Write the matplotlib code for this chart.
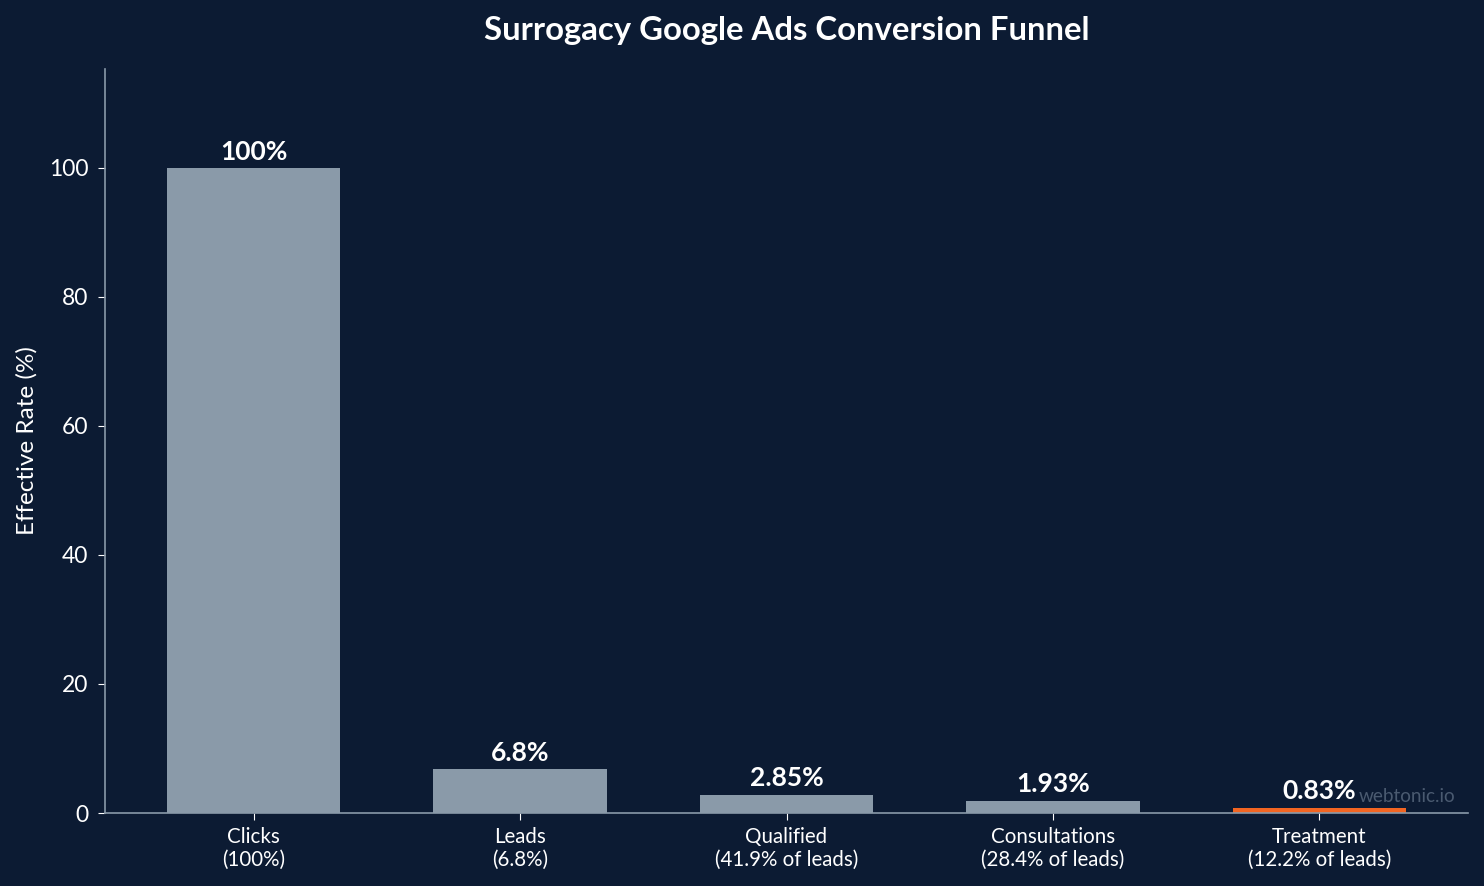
import matplotlib.pyplot as plt

stages = ["Clicks\n(100%)", "Leads\n(6.8%)", "Qualified\n(41.9% of leads)",
          "Consultations\n(28.4% of leads)", "Treatment\n(12.2% of leads)"]
rates = [100, 6.8, 2.85, 1.93, 0.83]
labels = ["100%", "6.8%", "2.85%", "1.93%", "0.83%"]

bg = "#0c1b33"
grey = "#8a9aa9"
orange = "#f26522"
colors = [grey, grey, grey, grey, orange]

plt.rcParams['font.family'] = ['Lato', 'DejaVu Sans']

fig = plt.figure(figsize=(14.84, 8.86), dpi=100, facecolor=bg)
ax = fig.add_axes([105 / 1484, 1 - 813 / 886, (1468 - 105) / 1484, (813 - 69) / 886])
ax.set_facecolor(bg)

x = range(len(stages))
bars = ax.bar(x, rates, width=0.65, color=colors)
for b, lab in zip(bars, labels):
    ax.annotate(lab, (b.get_x() + b.get_width() / 2, b.get_height()),
                xytext=(0, 3), textcoords="offset points", ha="center", va="bottom",
                color="white", fontsize=19, fontweight="bold")

ax.set_ylim(0, 115.3)
ax.set_xticks(list(x))
ax.set_xticklabels(stages)
ax.set_ylabel("Effective Rate (%)", color="white", fontsize=17.5, labelpad=8)
ax.tick_params(colors="white", labelsize=16.5, length=5)
ax.tick_params(axis="x", labelsize=14.8, pad=5)
ax.tick_params(axis="y", pad=7)
for s in ["top", "right"]:
    ax.spines[s].set_visible(False)
for s in ["left", "bottom"]:
    ax.spines[s].set_color(grey)
    ax.spines[s].set_linewidth(1.2)

ax.set_title("Surrogacy Google Ads Conversion Funnel", color="white",
             fontsize=23.7, fontweight="bold", pad=21)
fig.text(1455 / 1484, 1 - 797 / 886, "webtonic.io", ha="right", va="center",
         color="#4a5a70", fontsize=13.7)

fig.savefig("out.png", facecolor=bg)
